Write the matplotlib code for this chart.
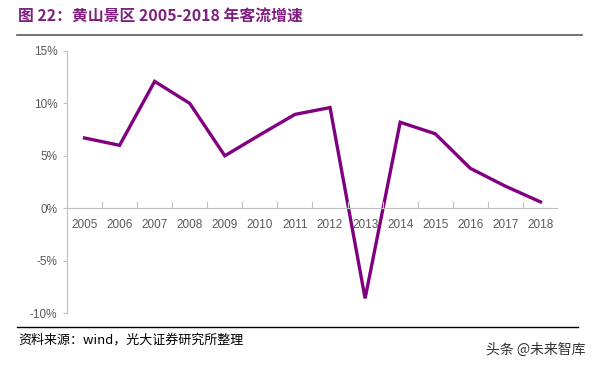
import matplotlib
matplotlib.use("Agg")
import matplotlib.pyplot as plt
from matplotlib.lines import Line2D
from matplotlib.ticker import FuncFormatter

years = ['2005', '2006', '2007', '2008', '2009', '2010', '2011',
         '2012', '2013', '2014', '2015', '2016', '2017', '2018']
growth = [6.7, 6.0, 12.1, 10.0, 5.0, 7.0, 8.95, 9.6, -8.6, 8.2, 7.1, 3.8, 2.1, 0.6]
y_ticks = [-10, -5, 0, 5, 10, 15]

title = '图 22：黄山景区 2005-2018 年客流增速'
source = '资料来源：wind，光大证券研究所整理'
watermark = '头条 @未来智库'

plt.rcParams['font.family'] = ['Liberation Sans', 'Noto Sans CJK SC', 'DejaVu Sans']

fig = plt.figure(figsize=(5.97, 3.66), dpi=100)
ax = fig.add_axes([0.1122, 0.1448, 0.8225, 0.7159])

x = list(range(len(years)))
ax.plot(x, growth, color='#800080', linewidth=2.4, solid_joinstyle='miter')

ax.set_xlim(-0.5, len(years) - 0.5)
ax.set_ylim(-10, 15)
ax.set_yticks(y_ticks)
ax.yaxis.set_major_formatter(FuncFormatter(lambda v, p: f'{v:.0f}%'))

for s in ['top', 'right', 'bottom']:
    ax.spines[s].set_visible(False)
ax.spines['left'].set_color('#bfbfbf')
ax.spines['left'].set_linewidth(0.8)
ax.axhline(0, color='#bfbfbf', linewidth=0.8)

ax.tick_params(axis='y', colors='#bfbfbf', labelcolor='#595959', labelsize=8.5,
               length=3, direction='out', pad=4)
ax.set_xticks([])
# tick marks between categories on the zero line, labels under it
for i in range(1, len(years)):
    ax.plot([i - 0.5, i - 0.5], [0, 0.6], color='#bfbfbf', linewidth=0.8)
for i, yr in enumerate(years):
    ax.text(i, -1.0, yr, ha='center', va='top', fontsize=8.5, color='#595959')

fig.text(0.030, 0.953, title, fontsize=11.4, fontweight='bold', color='#7f1f80',
         va='center', ha='left', family=['Noto Sans CJK SC', 'DejaVu Sans'])
fig.add_artist(Line2D([0.028, 0.975], [0.905, 0.905], color='#595959', linewidth=1.2))
fig.add_artist(Line2D([0.028, 0.968], [0.107, 0.107], color='black', linewidth=1.0))
fig.text(0.030, 0.070, source, fontsize=9.4, color='black', va='center', ha='left',
         family=['Noto Sans CJK SC', 'DejaVu Sans'])
fig.text(0.980, 0.045, watermark, fontsize=10, color='#333333', va='center', ha='right',
         family=['Noto Sans CJK SC', 'DejaVu Sans'])

fig.savefig('out.png', dpi=100)
